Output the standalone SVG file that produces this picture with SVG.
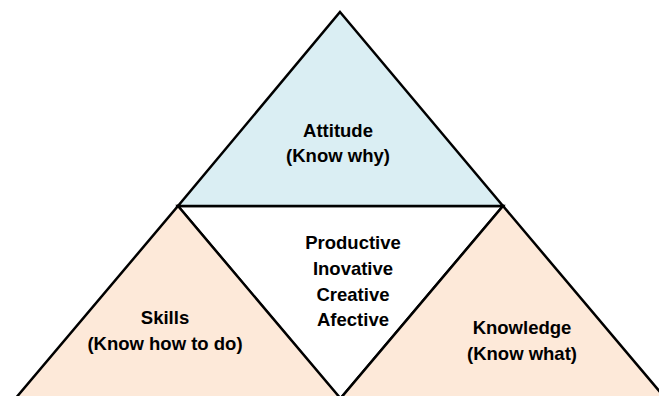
<svg xmlns="http://www.w3.org/2000/svg" width="659" height="396" viewBox="0 0 659 396">
<style>
.tri{stroke:#000;stroke-width:2.5;stroke-linejoin:miter}
.blue{fill:#DAEEF3}
.peach{fill:#FDE9D9}
.white{fill:#FFFFFF}
text{font-family:"Liberation Sans",Arial,sans-serif;font-weight:bold;font-size:18.5px;fill:#000;text-anchor:middle}
</style>
<rect width="659" height="396" fill="#fff"/>
<g id="center">
<polygon class="tri white" points="178,206 503,206 340,399"/>
<text x="353" y="249">Productive</text>
<text x="353" y="274.5">Inovative</text>
<text x="353" y="300.5">Creative</text>
<text x="353" y="326">Afective</text>
</g>
<g id="attitude">
<polygon class="tri blue" points="340,12 503,206 178,206"/>
<text x="338" y="137">Attitude</text>
<text x="338" y="162">(Know why)</text>
</g>
<g id="skills">
<polygon class="tri peach" points="178,206 341,399 15,399"/>
<text x="165" y="323.5">Skills</text>
<text x="165" y="350">(Know how to do)</text>
</g>
<g id="knowledge">
<polygon class="tri peach" points="503,206 666,399 340,399"/>
<text x="522" y="333.5">Knowledge</text>
<text x="522" y="360">(Know what)</text>
</g>
<g id="connectors"></g>
</svg>
